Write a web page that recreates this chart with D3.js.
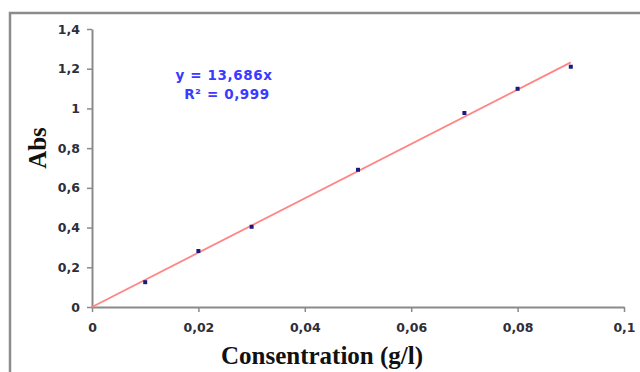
<!doctype html>
<html lang="fr">
<head>
    <meta charset="UTF-8">
    <title>Courbe d'étalonnage</title>
    <style>
        html, body { margin: 0; padding: 0; background: #fff; }
        svg { display: block; }
        .tick text { font-family: "DejaVu Sans", Verdana, sans-serif; font-weight: bold; font-size: 12.5px; fill: #2e2e38; }
    </style>
</head>
<body>
<svg id="chart" width="640" height="372"></svg>

<script src="https://cdn.jsdelivr.net/npm/d3@7"></script>
<script>
  // concentrations (g/l) et absorbances mesurées
  const conc = [0.01, 0.02, 0.03, 0.05, 0.07, 0.08, 0.09]
  const abs = [0.125, 0.282, 0.404, 0.691, 0.977, 1.099, 1.21]
  const slope = 13.686
  const xTicks = [0, 0.02, 0.04, 0.06, 0.08, 0.1]
  const yTicks = [0, 0.2, 0.4, 0.6, 0.8, 1, 1.2, 1.4]
  const eqLines = ['y = 13,686x', 'R² = 0,999']

  const svg = d3.select('#chart')
  const fmt = d => String(d).replace('.', ',')

  const x = d3.scaleLinear().domain([0, 0.1]).range([92, 624])
  const y = d3.scaleLinear().domain([0, 1.4]).range([307, 29])

  // cadre extérieur
  svg.append('path')
    .attr('d', 'M10,372 V13 H640')
    .attr('fill', 'none')
    .attr('stroke', '#8c8c8c')
    .attr('stroke-width', 2.5)

  const xAxis = svg.append('g')
    .attr('transform', `translate(0,${y(0)})`)
    .call(d3.axisBottom(x).tickValues(xTicks).tickFormat(fmt).tickSize(5).tickPadding(11).tickSizeOuter(0))
  const yAxis = svg.append('g')
    .attr('transform', `translate(${x(0)},0)`)
    .call(d3.axisLeft(y).tickValues(yTicks).tickFormat(fmt).tickSize(5).tickPadding(7).tickSizeOuter(0))

  ;[xAxis, yAxis].forEach(a => {
    a.select('.domain').attr('stroke', '#8a8a8a').attr('stroke-width', 2)
    a.selectAll('.tick line').attr('stroke', '#8a8a8a').attr('stroke-width', 1.5)
  })

  // droite de régression
  svg.append('line')
    .attr('x1', x(0)).attr('y1', y(0))
    .attr('x2', x(d3.max(conc))).attr('y2', y(slope * d3.max(conc)))
    .attr('stroke', '#ff8585')
    .attr('stroke-width', 1.8)

  // points
  svg.selectAll('.pt')
    .data(conc)
    .join('rect')
    .attr('class', 'pt')
    .attr('x', d => x(d) - 2)
    .attr('y', (d, i) => y(abs[i]) - 2)
    .attr('width', 4)
    .attr('height', 4)
    .attr('fill', '#1a1a80')

  // équation
  const eqStyle = t => t
    .attr('text-anchor', 'middle')
    .style('font-family', '"DejaVu Sans", Verdana, sans-serif')
    .style('font-weight', 'bold')
    .style('font-size', '13.5px')
    .style('letter-spacing', '0.6px')
    .attr('fill', '#3b3bff')
  svg.append('text').attr('x', 224).attr('y', 80).call(eqStyle).text(eqLines[0])
  svg.append('text').attr('x', 227).attr('y', 99).call(eqStyle).text(eqLines[1])

  // titres des axes
  const titleStyle = t => t
    .attr('text-anchor', 'middle')
    .style('font-family', '"Liberation Serif", "Times New Roman", serif')
    .style('font-weight', 'bold')
    .style('font-size', '25px')
    .attr('fill', '#111')
  svg.append('text')
    .attr('transform', 'translate(46,148) rotate(-90)')
    .call(titleStyle)
    .text('Abs')
  svg.append('text')
    .attr('x', 322).attr('y', 364)
    .call(titleStyle)
    .text('Consentration (g/l)')
</script>
</body>
</html>
